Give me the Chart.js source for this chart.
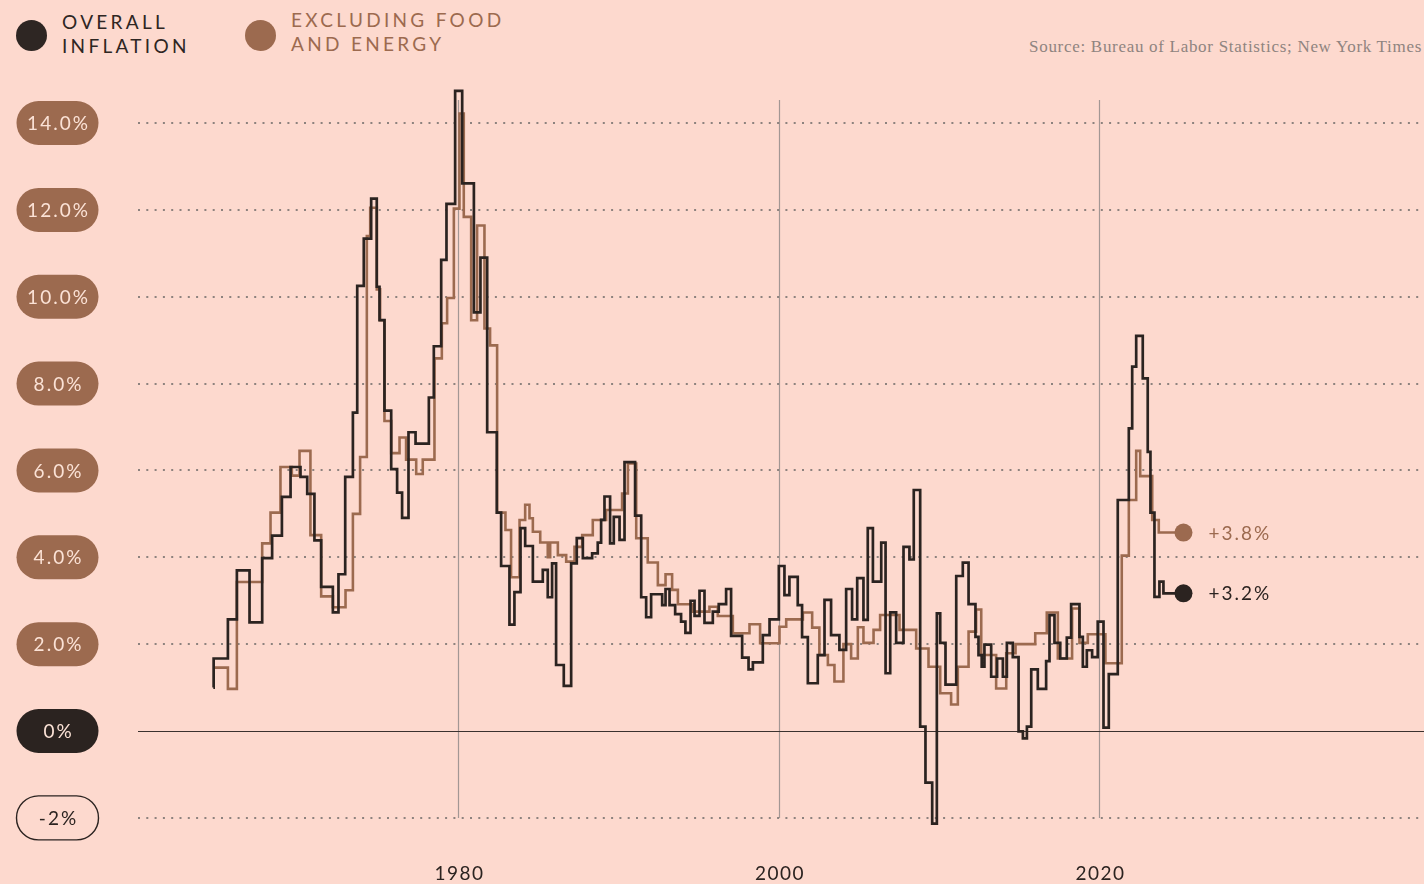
<!DOCTYPE html>
<html>
<head>
<meta charset="utf-8">
<title>Inflation</title>
<script src="https://cdn.jsdelivr.net/npm/chart.js@4.4.1/dist/chart.umd.min.js"></script>
<style>
  html, body { margin: 0; padding: 0; background: #fdd9ce; }
  #wrap { position: relative; width: 1424px; height: 884px; overflow: hidden; }
  canvas { position: absolute; left: 0; top: 0; }
  .dot { position: absolute; width: 31px; height: 31px; border-radius: 50%; }
  .lbl { position: absolute; font-family: Lato, sans-serif; font-size: 19px; line-height: 24px; letter-spacing: 3.3px; }
  .source { position: absolute; right: 2px; top: 37px; font-family: "Liberation Serif", serif; font-size: 17px; letter-spacing: 0.7px; color: #8f8480; }
</style>
</head>
<body>
<div id="wrap">
  <span class="dot" style="left:16px; top:20px; background:#2e2623"></span>
  <div class="lbl" style="left:62px; top:10px; color:#2e2623">OVERALL<br>INFLATION</div>
  <span class="dot" style="left:245px; top:20px; background:#9c6a4f"></span>
  <div class="lbl" style="left:291px; top:8px; color:#9c6a4f">EXCLUDING FOOD<br>AND ENERGY</div>
  <div class="source">Source: Bureau of Labor Statistics; New York Times</div>
  <canvas id="inflationChart" width="1424" height="884"></canvas>
</div>
<script>
// year-over-year CPI change, step changes (start year of each step, rate in %)
const overallYears = [
  1964.70, 1964.72, 1965.61, 1966.17, 1966.96, 1967.75, 1968.37, 1968.98, 1969.52, 1970.14,
  1970.56, 1971.01, 1971.43, 1972.16, 1972.51, 1972.93, 1973.41, 1973.68, 1974.09, 1974.55,
  1974.90, 1975.07, 1975.38, 1975.80, 1976.17, 1976.48, 1976.88, 1977.32, 1978.15, 1978.46,
  1978.92, 1979.25, 1979.79, 1980.23, 1980.96, 1981.37, 1981.79, 1982.39, 1982.66, 1983.18,
  1983.49, 1983.87, 1984.16, 1984.64, 1985.26, 1985.57, 1985.84, 1986.09, 1986.57, 1987.03,
  1987.38, 1987.76, 1988.34, 1988.69, 1988.90, 1989.11, 1989.46, 1989.69, 1990.05, 1990.36,
  1991.02, 1991.40, 1991.71, 1992.02, 1992.71, 1992.92, 1993.17, 1993.52, 1993.89, 1994.16,
  1994.48, 1994.73, 1995.04, 1995.35, 1995.87, 1996.24, 1996.70, 1997.01, 1997.70, 1998.10,
  1998.37, 1998.99, 1999.41, 1999.99, 2000.34, 2000.65, 2001.17, 2001.44, 2001.80, 2002.42,
  2002.84, 2003.25, 2003.77, 2004.19, 2004.56, 2004.88, 2005.27, 2005.54, 2005.86, 2006.38,
  2006.65, 2006.94, 2007.31, 2007.77, 2008.14, 2008.41, 2008.81, 2009.14, 2009.56, 2009.85,
  2010.06, 2010.39, 2011.06, 2011.47, 2011.83, 2012.26, 2012.45, 2012.65, 2012.82, 2013.24,
  2013.61, 2013.97, 2014.22, 2014.59, 2014.95, 2015.22, 2015.47, 2015.74, 2016.15, 2016.67,
  2016.88, 2017.19, 2017.55, 2017.96, 2018.23, 2018.75, 2018.96, 2019.21, 2019.54, 2019.89,
  2020.25, 2020.58, 2021.14, 2021.83, 2022.04, 2022.29, 2022.70, 2023.01, 2023.18, 2023.43,
  2023.74, 2023.99, 2025.24
];
const overallRates = [
  1.00, 1.67, 2.57, 3.70, 2.50, 3.98, 4.50, 5.39, 6.08, 5.85,
  5.46, 4.39, 3.32, 2.73, 3.61, 5.85, 7.33, 10.25, 11.34, 12.26,
  10.23, 9.46, 7.38, 6.03, 5.49, 4.91, 6.88, 6.62, 7.68, 8.86,
  10.85, 12.14, 14.74, 12.61, 9.64, 10.90, 6.88, 5.03, 3.80, 2.45,
  3.20, 4.67, 4.26, 3.44, 3.71, 3.08, 3.86, 1.52, 1.04, 3.86,
  4.44, 3.98, 4.09, 4.34, 4.86, 5.40, 4.32, 4.93, 4.40, 6.19,
  4.96, 3.08, 2.62, 3.15, 2.90, 3.27, 2.90, 2.69, 2.52, 2.26,
  3.00, 2.65, 3.23, 2.49, 2.75, 2.92, 3.27, 2.19, 1.69, 1.42,
  1.58, 2.21, 2.57, 3.80, 3.13, 3.55, 2.90, 2.16, 1.10, 1.75,
  3.02, 2.21, 1.87, 3.27, 2.57, 3.52, 2.56, 4.67, 3.44, 4.34,
  1.33, 2.73, 2.03, 4.24, 3.95, 5.55, 0.10, -1.19, -2.13, 2.71,
  2.03, 1.07, 3.57, 3.88, 2.92, 2.17, 1.75, 1.48, 1.99, 1.25,
  1.67, 1.25, 2.03, 1.70, -0.01, -0.17, 0.10, 1.42, 0.97, 1.61,
  2.67, 2.03, 1.67, 2.15, 2.92, 2.17, 1.48, 1.86, 1.70, 2.52,
  0.08, 1.31, 5.32, 6.97, 8.39, 9.10, 8.12, 6.43, 5.03, 3.09,
  3.44, 3.17, 3.17
];

const coreYears = [
  1964.71, 1965.61, 1966.17, 1967.75, 1968.27, 1968.89, 1969.60, 1970.08, 1970.76, 1971.43,
  1972.16, 1972.95, 1973.41, 1973.86, 1974.28, 1974.49, 1974.90, 1975.11, 1975.38, 1975.80,
  1976.32, 1976.73, 1977.36, 1977.77, 1978.50, 1978.96, 1979.29, 1979.71, 1980.06, 1980.33,
  1980.79, 1981.16, 1981.62, 1981.97, 1982.41, 1982.93, 1983.28, 1983.81, 1984.16, 1984.43,
  1984.64, 1985.10, 1985.57, 1985.72, 1986.20, 1986.72, 1987.24, 1987.72, 1988.38, 1989.21,
  1990.21, 1990.57, 1991.09, 1991.81, 1992.44, 1992.92, 1993.33, 1993.69, 1994.62, 1995.66,
  1996.18, 1997.12, 1998.16, 1998.82, 2000.03, 2000.45, 2001.49, 2002.07, 2002.52, 2003.05,
  2003.46, 2004.02, 2004.50, 2004.92, 2005.27, 2005.90, 2006.31, 2007.52, 2008.56, 2009.33,
  2010.06, 2010.74, 2011.16, 2011.83, 2012.30, 2012.62, 2013.55, 2014.18, 2014.76, 2015.99,
  2016.71, 2017.40, 2018.29, 2018.75, 2019.27, 2020.37, 2021.39, 2021.83, 2022.29, 2022.54,
  2023.29, 2023.70, 2025.24
];
const coreRates = [
  1.46, 0.97, 3.43, 4.32, 5.03, 6.08, 5.88, 6.45, 4.51, 3.10,
  2.85, 3.24, 5.00, 6.31, 11.40, 12.05, 10.17, 9.46, 7.14, 6.40,
  6.76, 6.25, 5.92, 6.25, 8.58, 9.39, 9.97, 12.03, 14.22, 11.84,
  9.46, 11.64, 9.27, 8.88, 5.03, 4.63, 3.54, 4.86, 5.21, 4.90,
  4.59, 4.34, 4.00, 4.34, 4.05, 3.90, 4.24, 4.51, 4.86, 5.09,
  5.47, 6.16, 4.44, 3.88, 3.36, 3.61, 3.25, 2.92, 2.75, 2.86,
  2.65, 2.25, 2.46, 2.02, 2.40, 2.57, 2.73, 2.38, 1.75, 1.52,
  1.14, 2.00, 1.67, 2.39, 2.03, 2.33, 2.67, 2.33, 1.90, 1.48,
  0.87, 0.61, 1.48, 2.29, 2.80, 1.75, 0.98, 1.79, 2.00, 2.25,
  2.73, 1.67, 2.82, 2.03, 2.23, 1.56, 4.04, 5.32, 6.45, 5.87,
  4.86, 4.57, 4.57
];

const yTicks = [-2, 0, 2, 4, 6, 8, 10, 12, 14];
const yTickLabels = ["-2%", "0%", "2.0%", "4.0%", "6.0%", "8.0%", "10.0%", "12.0%", "14.0%"];
const xTicks = [1980, 2000, 2020];
const endLabels = ["+3.2%", "+3.8%"];

const BLACK = "#2b2320";
const BROWN = "#9c6a4f";
const PILL_TEXT = "#fbe2d6";
const GRID = "#8d827e";

const toPoints = (xs, ys) => xs.map((x, i) => ({ x: x, y: ys[i] }));
const overallData = toPoints(overallYears, overallRates);
const coreData = toPoints(coreYears, coreRates);

const decor = {
  id: "decor",
  beforeDatasetsDraw(chart) {
    const { ctx, chartArea, scales: { x, y } } = chart;
    ctx.save();
    // year rules
    ctx.strokeStyle = "#a39794";
    ctx.lineWidth = 1.2;
    xTicks.forEach(t => {
      const px = Math.round(x.getPixelForValue(t)) + 0.5;
      ctx.beginPath();
      ctx.moveTo(px, y.getPixelForValue(14.53));
      ctx.lineTo(px, y.getPixelForValue(-2));
      ctx.stroke();
    });
    // dotted rate lines
    ctx.strokeStyle = GRID;
    ctx.lineWidth = 2;
    ctx.setLineDash([2, 6.3]);
    yTicks.filter(t => t !== 0).forEach(t => {
      const py = Math.round(y.getPixelForValue(t));
      ctx.beginPath();
      ctx.moveTo(chartArea.left, py);
      ctx.lineTo(chartArea.right, py);
      ctx.stroke();
    });
    ctx.setLineDash([]);
    // zero line
    ctx.strokeStyle = "#3b322f";
    ctx.lineWidth = 1.2;
    const zy = Math.round(y.getPixelForValue(0)) + 0.5;
    ctx.beginPath();
    ctx.moveTo(chartArea.left, zy);
    ctx.lineTo(chartArea.right, zy);
    ctx.stroke();
    ctx.restore();
  },
  afterDraw(chart) {
    const { ctx, scales: { x, y } } = chart;
    ctx.save();
    ctx.textAlign = "center";
    ctx.textBaseline = "middle";
    ctx.font = "19px Lato, sans-serif";
    ctx.letterSpacing = "2px";
    // tick pills
    yTicks.forEach((t, i) => {
      const cy = y.getPixelForValue(t);
      const w = 82, h = 44, left = 16.5, top = cy - h / 2;
      ctx.beginPath();
      ctx.roundRect(left, top, w, h, h / 2);
      if (t < 0) {
        ctx.strokeStyle = BLACK;
        ctx.lineWidth = 1.4;
        ctx.stroke();
        ctx.fillStyle = BLACK;
      } else {
        ctx.fillStyle = t === 0 ? BLACK : BROWN;
        ctx.fill();
        ctx.fillStyle = PILL_TEXT;
      }
      ctx.fillText(yTickLabels[i], left + w / 2 + 1, cy + 1);
    });
    // year labels
    ctx.fillStyle = BLACK;
    ctx.letterSpacing = "1.5px";
    xTicks.forEach(t => {
      ctx.fillText(String(t), x.getPixelForValue(t) + 1, 874);
    });
    // end labels
    ctx.textAlign = "left";
    ctx.letterSpacing = "2px";
    chart.data.datasets.forEach((ds, i) => {
      const last = ds.data[ds.data.length - 1];
      ctx.fillStyle = ds.borderColor;
      ctx.fillText(endLabels[i], x.getPixelForValue(last.x) + 25, y.getPixelForValue(last.y) + 1);
    });
    ctx.restore();
  }
};

const endDot = (n) => (c) => (c.dataIndex === n - 1 ? 9 : 0);

new Chart(document.getElementById("inflationChart"), {
  type: "line",
  data: {
    datasets: [
      {
        label: "Overall inflation",
        data: overallData,
        stepped: true,
        borderColor: BLACK,
        borderWidth: 2.7,
        borderJoinStyle: "miter",
        pointRadius: endDot(overallData.length),
        pointBackgroundColor: BLACK,
        pointBorderWidth: 0,
        fill: false,
        order: 0
      },
      {
        label: "Excluding food and energy",
        data: coreData,
        stepped: true,
        borderColor: BROWN,
        borderWidth: 2.6,
        borderJoinStyle: "miter",
        pointRadius: endDot(coreData.length),
        pointBackgroundColor: BROWN,
        pointBorderWidth: 0,
        fill: false,
        order: 1
      }
    ]
  },
  options: {
    responsive: false,
    animation: false,
    devicePixelRatio: 1,
    layout: { autoPadding: false, padding: { left: 138, right: 0, top: 79.6, bottom: 44.4 } },
    scales: {
      x: { type: "linear", min: 1960, max: 2040.25, display: false },
      y: { type: "linear", min: -2.5, max: 15, display: false }
    },
    plugins: {
      legend: { display: false },
      tooltip: { enabled: false }
    }
  },
  plugins: [decor]
});
</script>
</body>
</html>
